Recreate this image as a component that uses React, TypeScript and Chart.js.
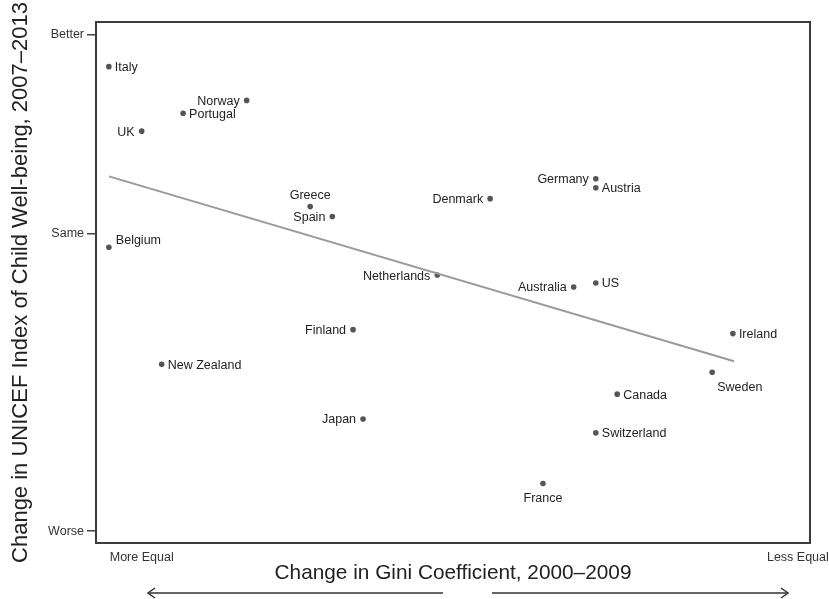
import React, { useEffect, useRef } from "react";
import { Chart, registerables } from "chart.js";

Chart.register(...registerables);

// ---- data ----
const countries = [
  "Italy", "Norway", "Portugal", "UK", "Belgium", "Greece", "Spain", "Denmark",
  "Germany", "Austria", "Netherlands", "Australia", "US", "Finland", "Ireland",
  "Sweden", "Canada", "Switzerland", "New Zealand", "Japan", "France",
];
// change in Gini coefficient (relative units, 0 = left edge, 100 = right edge)
const giniChange = [
  1.8, 21.1, 12.2, 6.4, 1.8, 30.0, 33.1, 55.2,
  70.0, 70.0, 47.8, 66.9, 70.0, 36.0, 89.2,
  86.3, 73.0, 70.0, 9.2, 37.4, 62.6,
];
// change in UNICEF index (Same = 0, Better = 2, Worse = -3)
const wellbeingChange = [
  1.68, 1.34, 1.21, 1.03, -0.14, 0.27, 0.17, 0.35,
  0.55, 0.46, -0.42, -0.54, -0.50, -0.97, -1.01,
  -1.40, -1.62, -2.01, -1.32, -1.87, -2.52,
];
const labelPlacement = [
  "right", "left", "right", "left", "aboveRight", "above", "left", "left",
  "left", "right", "left", "left", "right", "left", "right",
  "belowRight", "right", "right", "right", "left", "below",
];
const fitX = [1.82, 89.36];
const fitY = [0.574, -1.289];

const yTickValues = [2, 0, -3];
const yTickLabels = ["Better", "Same", "Worse"];
const xTickValues = [6.4, 98.3];
const xTickLabels = ["More Equal", "Less Equal"];

const xTitle = "Change in Gini Coefficient, 2000\u20132009";
const yTitle = "Change in UNICEF Index of Child Well-being, 2007\u20132013";

const FONT = "'Liberation Sans', Arial, Helvetica, sans-serif";

const pointLabelPlugin = {
  id: "pointLabels",
  afterDatasetsDraw(chart: any) {
    const meta = chart.getDatasetMeta(1);
    const ctx = chart.ctx;
    ctx.save();
    ctx.font = `12.5px ${FONT}`;
    ctx.fillStyle = "#222";
    meta.data.forEach((el: any, i: number) => {
      const p = labelPlacement[i];
      const x = el.x;
      const y = el.y;
      ctx.textBaseline = "middle";
      if (p === "right") {
        ctx.textAlign = "left";
        ctx.fillText(countries[i], x + 6, y + 1);
      } else if (p === "left") {
        ctx.textAlign = "right";
        ctx.fillText(countries[i], x - 7, y + 1);
      } else if (p === "above") {
        ctx.textAlign = "center";
        ctx.fillText(countries[i], x, y - 11);
      } else if (p === "below") {
        ctx.textAlign = "center";
        ctx.fillText(countries[i], x, y + 15);
      } else if (p === "aboveRight") {
        ctx.textAlign = "left";
        ctx.fillText(countries[i], x + 7, y - 7);
      } else if (p === "belowRight") {
        ctx.textAlign = "left";
        ctx.fillText(countries[i], x + 5, y + 15);
      }
    });
    ctx.restore();
  },
};

const framePlugin = {
  id: "frameAndArrows",
  afterDraw(chart: any) {
    const { ctx, chartArea } = chart;
    const { left, top, right, bottom } = chartArea;
    ctx.save();
    ctx.strokeStyle = "#3c3c3c";
    ctx.lineWidth = 2;
    ctx.strokeRect(left, top, right - left, bottom - top);

    // direction arrows under the x title
    const ay = 593;
    ctx.strokeStyle = "#333";
    ctx.lineWidth = 1.5;
    const drawArrow = (x1: number, x2: number, headAtStart: boolean) => {
      ctx.beginPath();
      ctx.moveTo(x1, ay);
      ctx.lineTo(x2, ay);
      ctx.stroke();
      const hx = headAtStart ? x1 : x2;
      const d = headAtStart ? 1 : -1;
      ctx.beginPath();
      ctx.moveTo(hx + d * 7, ay - 5);
      ctx.lineTo(hx, ay);
      ctx.lineTo(hx + d * 7, ay + 5);
      ctx.stroke();
    };
    drawArrow(left + 52, left + 347, true);
    drawArrow(left + 396, left + 692, false);
    ctx.restore();
  },
};

export default function App() {
  const ref = useRef<HTMLCanvasElement | null>(null);

  useEffect(() => {
    if (!ref.current) return;
    Chart.defaults.font.family = FONT;
    const chart = new Chart(ref.current, {
      type: "scatter",
      data: {
        datasets: [
          {
            type: "line",
            data: fitX.map((x, i) => ({ x, y: fitY[i] })),
            borderColor: "#9a9a9a",
            borderWidth: 2,
            pointRadius: 0,
            fill: false,
          } as any,
          {
            type: "scatter",
            data: giniChange.map((x, i) => ({ x, y: wellbeingChange[i] })),
            backgroundColor: "#555",
            borderWidth: 0,
            pointRadius: 2.8,
          },
        ],
      },
      options: {
        animation: false,
        responsive: false,
        maintainAspectRatio: false,
        layout: { padding: { top: 22, right: 19, left: 0, bottom: 0 } },
        plugins: {
          legend: { display: false },
          tooltip: { enabled: false },
        },
        scales: {
          x: {
            type: "linear",
            min: 0,
            max: 100,
            afterBuildTicks: (s: any) => {
              s.ticks = xTickValues.map((v) => ({ value: v }));
            },
            afterFit: (s: any) => {
              s.height = 56;
              s.paddingLeft = 0;
              s.paddingRight = 0;
            },
            ticks: {
              autoSkip: false,
              maxRotation: 0,
              padding: 7,
              color: "#333",
              font: { size: 12.5 },
              callback: (v: any) => xTickLabels[xTickValues.indexOf(v)] ?? "",
            },
            grid: { display: false, drawTicks: false },
            border: { display: false },
            title: {
              display: true,
              text: xTitle,
              color: "#222",
              font: { size: 20.8 },
              padding: { top: 0, bottom: 13 },
            },
          },
          y: {
            type: "linear",
            min: -3.12,
            max: 2.13,
            afterBuildTicks: (s: any) => {
              s.ticks = yTickValues.map((v) => ({ value: v }));
            },
            afterFit: (s: any) => {
              s.width = 96;
            },
            ticks: {
              autoSkip: false,
              padding: 3,
              color: "#333",
              font: { size: 12.5 },
              callback: (v: any) => yTickLabels[yTickValues.indexOf(v)] ?? "",
            },
            grid: {
              display: true,
              drawOnChartArea: false,
              drawTicks: true,
              tickLength: 9,
              color: "#444",
              lineWidth: 1.5,
            },
            border: { display: false },
            title: {
              display: true,
              text: yTitle,
              color: "#222",
              font: { size: 22 },
              padding: { top: 8, bottom: 0 },
            },
          },
        },
      },
      plugins: [pointLabelPlugin, framePlugin],
    });
    return () => chart.destroy();
  }, []);

  return (
    <div style={{ position: "fixed", left: 0, top: 0, width: 829, height: 599, background: "#fff" }}>
      <canvas ref={ref} width={829} height={599} style={{ display: "block", width: 829, height: 599 }} />
    </div>
  );
}
